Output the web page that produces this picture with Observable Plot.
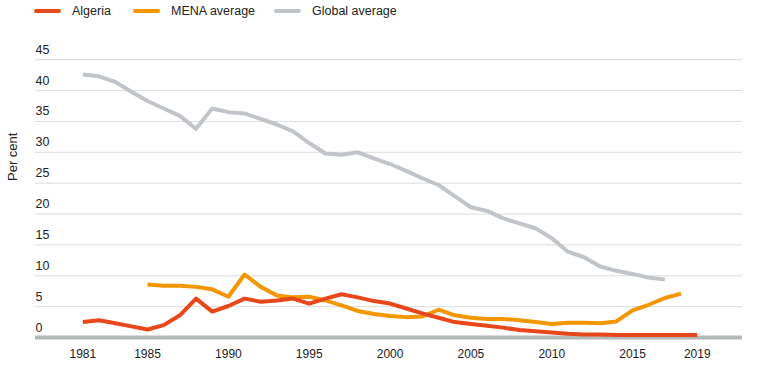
<!DOCTYPE html>
<html>
<head>
<meta charset="utf-8">
<script src="https://cdn.jsdelivr.net/npm/d3@7"></script>
<script src="https://cdn.jsdelivr.net/npm/@observablehq/plot@0.6"></script>
<style>
  body { margin: 0; background: #fff; font-family: "Liberation Sans", Arial, sans-serif; }
  #legend { position: relative; height: 24px; font-size: 12.5px; color: #222; }
  .item { position: absolute; top: 4px; display: flex; align-items: center; }
  .sw { width: 27px; height: 4px; border-radius: 2px; margin-right: 11px; }
  svg { display: block; }
</style>
</head>
<body>
<div id="legend"></div>
<div id="chart"></div>
<script>
const seriesNames = ["Algeria", "MENA average", "Global average"];
const seriesColors = ["#e8471c", "#f39600", "#c1c5ca"];

const algeriaYears = d3.range(1981, 2020);
const algeriaValues = [2.5, 2.8, 2.3, 1.8, 1.3, 2.0, 3.6, 6.3, 4.2, 5.1, 6.3, 5.8, 6.0, 6.3, 5.5, 6.3, 7.0, 6.5, 5.9, 5.5, 4.7, 3.9, 3.2, 2.5, 2.2, 1.9, 1.6, 1.2, 1.0, 0.8, 0.6, 0.5, 0.5, 0.4, 0.4, 0.4, 0.4, 0.4, 0.4];

const menaYears = d3.range(1985, 2019);
const menaValues = [8.6, 8.4, 8.4, 8.2, 7.8, 6.6, 10.2, 8.2, 6.8, 6.5, 6.6, 6.0, 5.2, 4.3, 3.8, 3.5, 3.3, 3.4, 4.5, 3.6, 3.2, 3.0, 3.0, 2.8, 2.5, 2.2, 2.4, 2.4, 2.3, 2.6, 4.4, 5.3, 6.4, 7.1];

const globalYears = d3.range(1981, 2018);
const globalValues = [42.6, 42.3, 41.4, 39.8, 38.3, 37.1, 35.9, 33.8, 37.1, 36.5, 36.3, 35.4, 34.5, 33.4, 31.5, 29.8, 29.6, 30.0, 29.0, 28.1, 27.0, 25.8, 24.7, 22.9, 21.1, 20.5, 19.3, 18.5, 17.7, 16.1, 13.9, 13.0, 11.5, 10.8, 10.3, 9.7, 9.4];

const xTicks = [1981, 1985, 1990, 1995, 2000, 2005, 2010, 2015, 2019];
const yTicks = [5, 10, 15, 20, 25, 30, 35, 40, 45];
const yLabels = [0, 5, 10, 15, 20, 25, 30, 35, 40, 45];
const yTitle = "Per cent";

// legend
const legend = document.getElementById("legend");
const legendX = [34, 133, 274];
seriesNames.forEach((n, i) => {
  const it = document.createElement("div");
  it.className = "item";
  it.style.left = legendX[i] + "px";
  it.innerHTML = `<span class="sw" style="background:${seriesColors[i]}"></span><span>${n}</span>`;
  legend.appendChild(it);
});

const rows = [
  ...globalYears.map((y, i) => ({series: seriesNames[2], year: y, value: globalValues[i]})),
  ...menaYears.map((y, i) => ({series: seriesNames[1], year: y, value: menaValues[i]})),
  ...algeriaYears.map((y, i) => ({series: seriesNames[0], year: y, value: algeriaValues[i]}))
];

const chart = Plot.plot({
  width: 764,
  height: 342,
  marginLeft: 35,
  marginRight: 22,
  marginTop: 0,
  marginBottom: 29,
  style: { fontFamily: "Liberation Sans, Arial, sans-serif", fontSize: "12px", color: "#222", background: "#fff" },
  x: { domain: [1978.07, 2021.8], label: null },
  y: { domain: [0, 50.7], axis: null, label: null },
  color: { domain: seriesNames, range: seriesColors },
  marks: [
    Plot.ruleY(yTicks, { stroke: "#dcdcdc", strokeWidth: 1 }),
    Plot.ruleY([0], { stroke: "#b3b9b7", strokeWidth: 4 }),
    Plot.text(yLabels, { y: d => d, frameAnchor: "left", text: d => String(d), textAnchor: "start", dy: -10, fill: "#222", fontSize: 12.5 }),
    Plot.text([yTitle], { frameAnchor: "left", text: d => d, rotate: -90, dx: -23, fill: "#222", fontSize: 13 }),
    Plot.axisX(xTicks, { tickSize: 0, tickPadding: 12, tickFormat: d => String(d), fontSize: 12, fill: "#222", label: null }),
    Plot.line(rows, { x: "year", y: "value", z: "series", stroke: "series", strokeWidth: 4, strokeLinejoin: "round", strokeLinecap: "butt" })
  ]
});
document.getElementById("chart").appendChild(chart);
</script>
</body>
</html>
